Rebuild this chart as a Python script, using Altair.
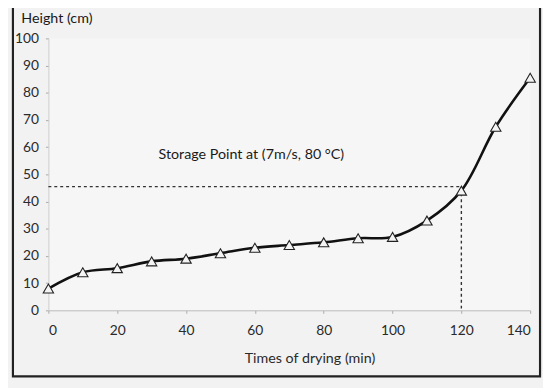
import altair as alt
import pandas as pd

# data
times = [0, 10, 20, 30, 40, 50, 60, 70, 80, 90, 100, 110, 120, 130, 140]
heights = [8, 14, 15.5, 18, 19, 21, 23, 24, 25, 26.5, 27, 33, 44, 67.5, 85.5]

storage_x = [0, 120, 120]
storage_y = [45.5, 45.5, 0]
note_text = ["Storage Point at (7m/s, 80 \u00b0C)"]
note_x = [32]
note_y = [57]

x_ticks = [0, 20, 40, 60, 80, 100, 120, 140]
y_ticks = [0, 10, 20, 30, 40, 50, 60, 70, 80, 90, 100]

df = pd.DataFrame({"t": times, "h": heights})
storage = pd.DataFrame({"t": storage_x, "h": storage_y, "o": [0, 1, 2]})
note = pd.DataFrame({"t": note_x, "h": note_y, "label": note_text})

FONT = "Lato"

xscale = alt.Scale(domain=[0, 140], nice=False, zero=True)
yscale = alt.Scale(domain=[0, 100], nice=False)

xaxis = alt.Axis(
    values=x_ticks, title="Times of drying (min)", grid=False, labelOverlap=False,
    domainColor="#bbbbbb", tickColor="#aaaaaa", tickSize=3, labelPadding=11,
    labelFontSize=14, labelColor="#2a2a2a", labelFont=FONT,
    titleFont=FONT, titleFontSize=14.5, titleFontWeight="normal", titleColor="#2a2a2a",
    titleX=265, titleY=49, titleBaseline="middle")
yaxis = alt.Axis(
    values=y_ticks, title="Height (cm)", grid=False, labelOverlap=False,
    domainColor="#cccccc", tickColor="#aaaaaa", tickSize=3, labelPadding=7,
    labelFontSize=14, labelColor="#2a2a2a", labelFont=FONT,
    titleFont=FONT, titleFontSize=14.5, titleFontWeight="normal", titleColor="#1a1a1a",
    titleAngle=0, titleAlign="left", titleBaseline="middle", titleX=-28, titleY=-20)


def X():
    return alt.X("t:Q", scale=xscale, axis=xaxis)


def Y():
    return alt.Y("h:Q", scale=yscale, axis=yaxis)


line = alt.Chart(df).mark_line(color="#111111", strokeWidth=2.6, interpolate="catmull-rom").encode(
    x=X(), y=Y())

points = alt.Chart(df).mark_point(shape="triangle-up", size=110, filled=True,
                                  fill="#f4f4f4", stroke="#222222", strokeWidth=1.1,
                                  opacity=1).encode(x=X(), y=Y())

dash = alt.Chart(storage).mark_line(color="#333333", strokeWidth=1.4,
                                    strokeDash=[3, 3]).encode(
    x=X(), y=Y(), order="o:Q")

text = alt.Chart(note).mark_text(align="left", baseline="middle", font=FONT,
                                 fontSize=14.5, color="#1a1a1a").encode(
    x=X(), y=Y(), text="label:N")

frame = alt.Chart(pd.DataFrame({"a": [0]})).mark_rect(
    fill=None, stroke="#222222", strokeWidth=2.2).encode(
    x=alt.value(-36), x2=alt.value(499), y=alt.value(-32), y2=alt.value(343))

chart = alt.layer(dash, line, points, text, frame).properties(
    width=489, height=276,
    autosize=alt.AutoSizeParams(type="none"),
    padding={"left": 41, "top": 28, "right": 13, "bottom": 76},
    background="#f2f2f2",
).configure_view(stroke=None, fill="#f6f6f6")

chart.save("out.html", embed_options={"renderer": "svg", "actions": False})
